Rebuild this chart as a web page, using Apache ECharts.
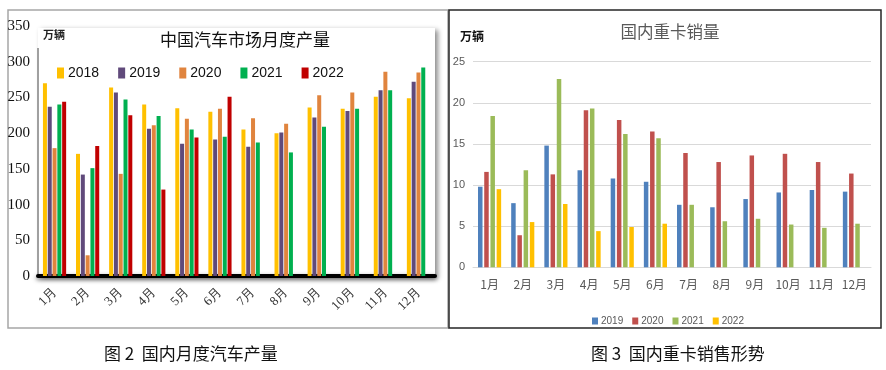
<!DOCTYPE html>
<html>
<head>
<meta charset="utf-8">
<script src="https://cdn.jsdelivr.net/npm/echarts@6/dist/echarts.min.js"></script>
<style>html,body{margin:0;padding:0;background:#fff;}#c{width:886px;height:370px;}</style>
</head>
<body>
<div id="c"></div>
<script>
var months = ['1月','2月','3月','4月','5月','6月','7月','8月','9月','10月','11月','12月'];
var carYears = ['2018','2019','2020','2021','2022'];
var car2018 = [270,171,264,240,235,230,205,200,236,234,251,249];
var car2019 = [237,142,257,206,185,191,181,201,222,231,260,272];
var car2020 = [179,29,143,211,220,234,221,213,253,257,286,285];
var car2021 = [240,151,247,224,205,195,187,173,209,234,260,292];
var car2022 = [244,182,225,121,194,251,null,null,null,null,null,null];
var carTicks = [0,50,100,150,200,250,300,350];

var truckYears = ['2019','2020','2021','2022'];
var truck2019 = [9.8,7.8,14.8,11.8,10.8,10.4,7.6,7.3,8.3,9.1,9.4,9.2];
var truck2020 = [11.6,3.9,11.3,19.1,17.9,16.5,13.9,12.8,13.6,13.8,12.8,11.4];
var truck2021 = [18.4,11.8,22.9,19.3,16.2,15.7,7.6,5.6,5.9,5.2,4.8,5.3];
var truck2022 = [9.5,5.5,7.7,4.4,4.9,5.3,null,null,null,null,null,null];
var truckTicks = [0,5,10,15,20,25];

var carColors = ['#FFC000','#604A7B','#E0843E','#00B050','#C00000'];
var truckColors = ['#4F81BD','#C0504D','#9BBB59','#FFC000'];
var carData = [car2018,car2019,car2020,car2021,car2022];
var truckData = [truck2019,truck2020,truck2021,truck2022];

var chart = echarts.init(document.getElementById('c'));
var series = [];
carYears.forEach(function(y,i){
  series.push({name:y,type:'bar',xAxisIndex:0,yAxisIndex:0,data:carData[i],
    barWidth:4,barGap:'20%',itemStyle:{color:carColors[i]}});
});
truckYears.forEach(function(y,i){
  series.push({name:'r'+y,type:'bar',xAxisIndex:1,yAxisIndex:1,data:truckData[i],
    barWidth:4.5,barGap:'38%',itemStyle:{color:truckColors[i]}});
});

var cjk = '"Noto Sans CJK SC", sans-serif';
chart.setOption({
  animation:false,
  title:[
    {text:'中国汽车市场月度产量',left:240,top:26,textAlign:'center',
     textStyle:{fontFamily:cjk,fontSize:17,fontWeight:'normal',color:'#111'}},
    {text:'国内重卡销量',left:665,top:18,textAlign:'center',
     textStyle:{fontFamily:cjk,fontSize:16.5,fontWeight:'normal',color:'#595959'}}
  ],
  graphic:[
    {type:'rect',shape:{x:8,y:10,width:440,height:318},style:{fill:'#fff',stroke:'#a6a6a6',lineWidth:1.5},z:-20},
    {type:'rect',shape:{x:449,y:10,width:432,height:318},style:{fill:'#fff',stroke:'#262626',lineWidth:1.5},z:-20},
    {type:'rect',shape:{x:38,y:28,width:397,height:248},
     style:{fill:'#fff',shadowBlur:5,shadowOffsetX:3,shadowOffsetY:2,shadowColor:'rgba(0,0,0,0.45)'},z:-10},
    {type:'line',shape:{x1:38,y1:48,x2:38,y2:276},style:{stroke:'#a0a0a0',lineWidth:2},z:-5},
    {type:'text',left:43,top:29,style:{text:'万辆',fontFamily:cjk,fontSize:11,fontWeight:'bold',fill:'#222'}},
    {type:'text',left:460,top:30,style:{text:'万辆',fontFamily:cjk,fontSize:12,fontWeight:'bold',fill:'#111'}},
    {type:'text',left:104,top:345,style:{text:'图 2  国内月度汽车产量',fontFamily:cjk,fontSize:17,fill:'#111'}},
    {type:'text',left:591,top:345,style:{text:'图 3  国内重卡销售形势',fontFamily:cjk,fontSize:17,fill:'#111'}}
  ],
  legend:[
    {data:carYears,left:52,top:61,itemWidth:7,itemHeight:11,itemGap:19,icon:'rect',
     textStyle:{fontFamily:'"Liberation Sans", Arial, sans-serif',fontSize:14,color:'#111',padding:[0,0,0,-1]}},
    {data:truckYears.map(function(y){return 'r'+y;}),top:311,itemWidth:6,itemHeight:7,itemGap:9,icon:'rect',
     left:587,
     formatter:function(n){return n.slice(1);},
     textStyle:{fontFamily:'"Liberation Sans", Arial, sans-serif',fontSize:10,color:'#595959',padding:[0,0,0,-2]}}
  ],
  grid:[
    {left:38,right:451,top:26,bottom:94},
    {left:473,right:15,top:61.7,bottom:102.7}
  ],
  xAxis:[
    {type:'category',gridIndex:0,data:months,
     axisLine:{lineStyle:{color:'#000',width:4,shadowBlur:4,shadowColor:'rgba(0,0,0,0.5)',shadowOffsetY:2}},
     axisTick:{show:false},
     axisLabel:{rotate:45,margin:14,interval:0,fontFamily:'"Liberation Serif", serif',fontSize:13,color:'#333'}},
    {type:'category',gridIndex:1,data:months,
     axisLine:{lineStyle:{color:'#d9d9d9',width:1}},
     axisTick:{show:false},
     axisLabel:{margin:11,interval:0,fontFamily:cjk,fontSize:12,color:'#595959'}}
  ],
  yAxis:[
    {type:'value',gridIndex:0,min:carTicks[0],max:carTicks[carTicks.length-1],interval:50,
     axisLine:{show:false},axisTick:{show:false},splitLine:{show:false},
     axisLabel:{margin:8,fontFamily:'"Liberation Serif", serif',fontSize:15,color:'#111'}},
    {type:'value',gridIndex:1,min:truckTicks[0],max:truckTicks[truckTicks.length-1],interval:5,
     axisLine:{show:false},axisTick:{show:false},
     splitLine:{lineStyle:{color:'#d9d9d9',width:1}},
     axisLabel:{margin:8,fontFamily:'"Liberation Sans", Arial, sans-serif',fontSize:11,color:'#595959'}}
  ],
  series:series
});
</script>
</body>
</html>
